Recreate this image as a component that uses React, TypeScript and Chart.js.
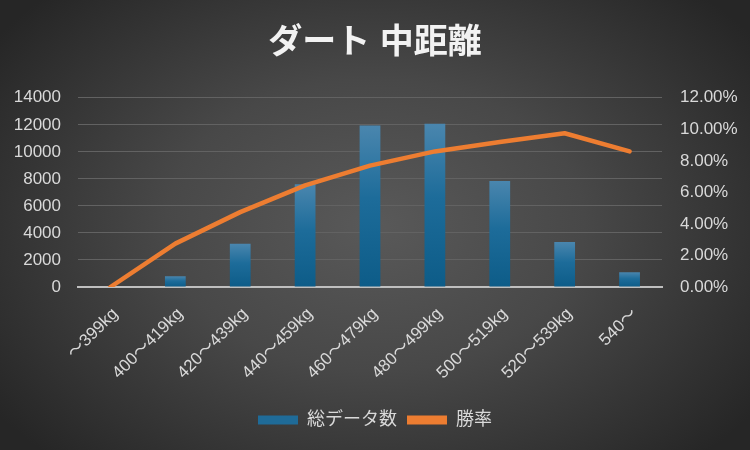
import { Chart, registerables } from 'chart.js';
import React, { useEffect, useRef } from 'react';
Chart.register(...registerables);

const labels = ['～399kg', '400～419kg', '420～439kg', '440～459kg', '460～479kg', '480～499kg', '500～519kg', '520～539kg', '540～'];
const totalCount = [0, 800, 3200, 7600, 11950, 12080, 7850, 3330, 1100];
const winRate = [0, 2.75, 4.75, 6.45, 7.7, 8.6, 9.2, 9.75, 8.6];

const FONT = "'Liberation Sans', 'Noto Sans CJK JP', sans-serif";
const TEXT = '#d9d9d9';

// per-bar vertical gradient, lighter at the top like the Excel style
const barFill = (ctx: any) => {
    const chart = ctx.chart;
    const y = chart.scales && chart.scales.y;
    if (ctx.type !== 'data' || !y || !chart.chartArea) return '#1f6b98';
    const top = y.getPixelForValue(ctx.raw);
    const base = y.getPixelForValue(0);
    if (base - top < 1) return '#1f6b98';
    const g = chart.ctx.createLinearGradient(0, top, 0, base);
    g.addColorStop(0, '#4a86ae');
    g.addColorStop(0.45, '#1d6c9a');
    g.addColorStop(1, '#0d5c88');
    return g;
};

const App: React.FC = () => {
    const ref = useRef<HTMLCanvasElement>(null);

    useEffect(() => {
        if (!ref.current) return;
        const chart = new Chart(ref.current, {
            type: 'bar',
            data: {
                labels,
                datasets: [
                    {
                        type: 'line',
                        label: '勝率',
                        data: winRate,
                        yAxisID: 'y1',
                        borderColor: '#ed7d31',
                        backgroundColor: '#ed7d31',
                        borderWidth: 4.5,
                        borderCapStyle: 'round',
                        borderJoinStyle: 'round',
                        pointRadius: 0,
                        tension: 0,
                        order: 0,
                    },
                    {
                        type: 'bar',
                        label: '総データ数',
                        data: totalCount,
                        yAxisID: 'y',
                        backgroundColor: barFill,
                        borderWidth: 0,
                        categoryPercentage: 1,
                        barPercentage: 0.32,
                        order: 1,
                    },
                ],
            },
            options: {
                responsive: false,
                animation: false,
                layout: { padding: { top: 0, left: 0, right: 0, bottom: 11 } },
                plugins: {
                    title: {
                        display: true,
                        text: 'ダート 中距離',
                        color: '#f2f2f2',
                        font: { family: FONT, size: 34, weight: 'bold' },
                        padding: { top: 23, bottom: 34 },
                    },
                    legend: {
                        position: 'bottom',
                        labels: {
                            color: TEXT,
                            font: { family: FONT, size: 18 },
                            boxWidth: 40,
                            boxHeight: 9,
                            padding: 10,
                            generateLabels: (c: any) => {
                                const items = Chart.defaults.plugins.legend.labels.generateLabels(c);
                                items.forEach((it: any) => { it.lineWidth = 0; });
                                return items.reverse();
                            },
                        },
                    },
                    tooltip: { enabled: false },
                },
                scales: {
                    x: {
                        grid: { display: false, drawTicks: false },
                        border: { display: true, color: '#bfbfbf', width: 2 },
                        ticks: {
                            color: TEXT,
                            font: { family: FONT, size: 17 },
                            minRotation: 45,
                            maxRotation: 45,
                            padding: 17,
                            labelOffset: 5,
                            autoSkip: false,
                        },
                        afterFit: (s: any) => { s.height = 114; },
                    },
                    y: {
                        position: 'left',
                        min: 0,
                        max: 14000,
                        ticks: {
                            stepSize: 2000,
                            color: TEXT,
                            font: { family: FONT, size: 17 },
                            padding: 17,
                            callback: (v: any) => String(v),
                        },
                        grid: { color: '#626262', lineWidth: 1, drawTicks: false },
                        border: { display: false },
                        afterFit: (s: any) => { s.width = 78; },
                    },
                    y1: {
                        position: 'right',
                        min: 0,
                        max: 12,
                        ticks: {
                            stepSize: 2,
                            color: TEXT,
                            font: { family: FONT, size: 17 },
                            padding: 18,
                            callback: (v: any) => Number(v).toFixed(2) + '%',
                        },
                        grid: { display: false, drawTicks: false },
                        border: { display: false },
                        afterFit: (s: any) => { s.width = 88; },
                    },
                },
            },
        } as any);

        return () => {
            chart.destroy();
        };
    }, []);

    return (
        <div
            style={{
                position: 'fixed',
                left: 0,
                top: 0,
                width: 750,
                height: 450,
                background: 'radial-gradient(ellipse 62% 72% at 50% 50%, #595959 0%, #484848 45%, #262626 100%)',
            }}
        >
            <canvas ref={ref} width={750} height={450}></canvas>
        </div>
    );
};

export default App;
